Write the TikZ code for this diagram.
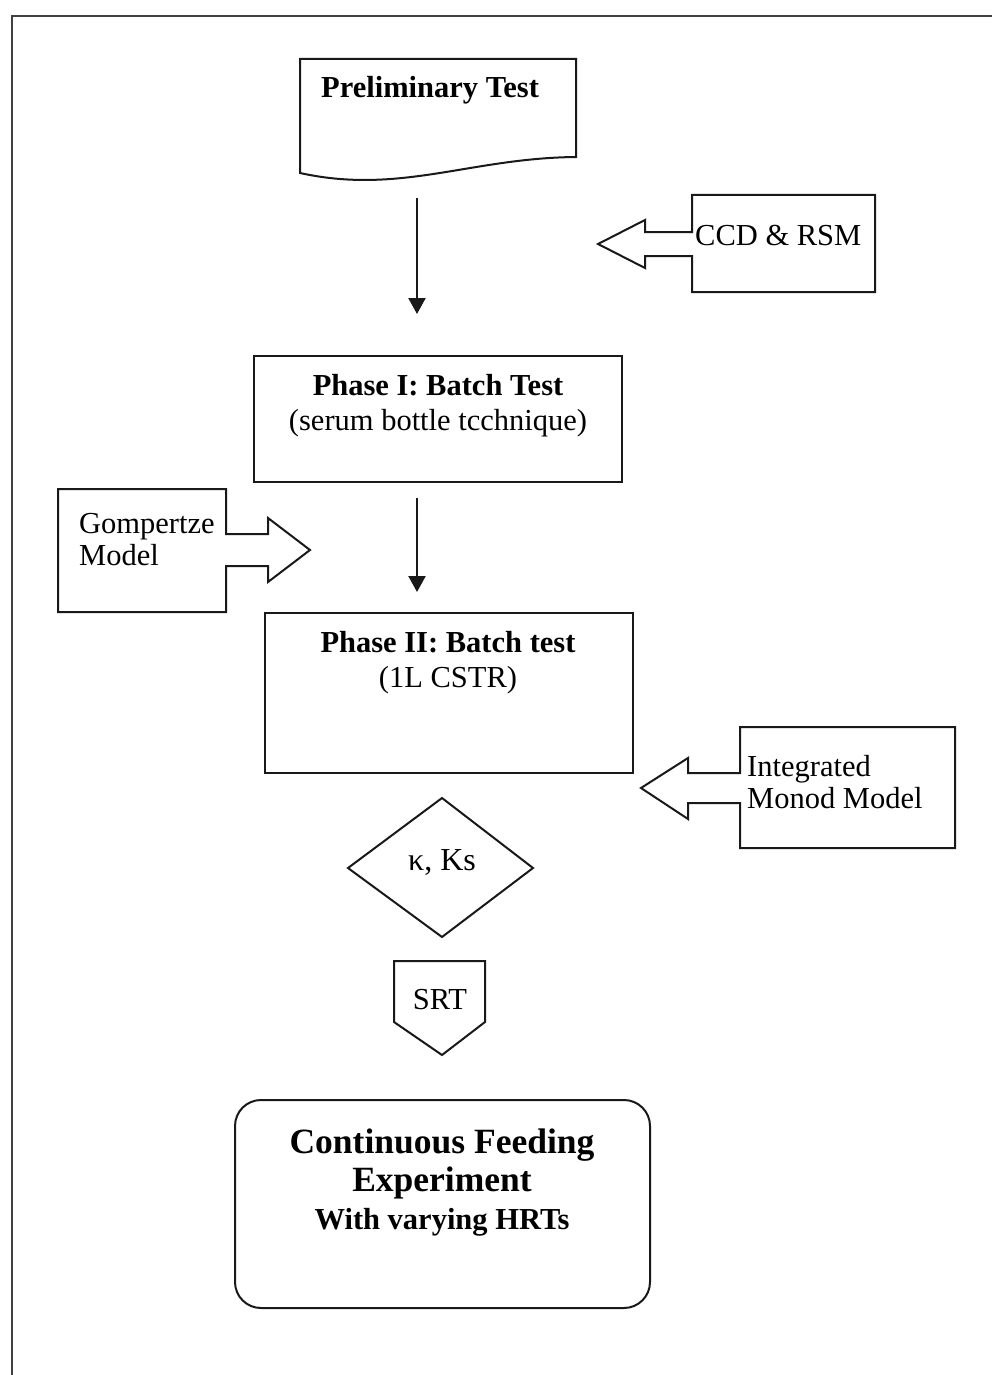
\documentclass[tikz,border=0pt]{standalone}
\usepackage{fontspec}
\setmainfont{Liberation Serif}
\usetikzlibrary{arrows.meta}
\tikzset{
  shp/.style={draw=black!90, line width=2pt, line join=miter},
  txt/.style={font=\fontsize{30.5}{35}\selectfont, align=center, inner sep=0pt},
  txtl/.style={font=\fontsize{30.5}{32}\selectfont, align=left, inner sep=0pt, anchor=west},
  flow/.style={draw=black!90, line width=2.2pt, -{Triangle[length=16pt,width=17pt]}},
}
\begin{document}
\begin{tikzpicture}[x=1pt,y=-1pt]
\useasboundingbox (0,0) rectangle (992,1375);
% outer frame (only top and left edges fall inside the page)
\draw[line width=2.5pt, black!75] (12,1380) -- (12,16) -- (1000,16);

% Preliminary Test (document shape)
\draw[shp] (300,59) -- (576,59) -- (576,157) .. controls (470,158) and (400,195) .. (300,173) -- cycle;
\node[txt, font=\fontsize{30.5}{35}\selectfont\bfseries] (prelim) at (430,90) {Preliminary Test};
\coordinate (a1s) at (417,198);
\coordinate (a1e) at (417,314);

% CCD & RSM callout
\draw[shp] (692,195) -- (875,195) -- (875,292) -- (692,292) -- (692,256) -- (645,256) -- (645,268) -- (598,244) -- (645,220) -- (645,232) -- (692,232) -- cycle;
\node[txtl] (ccd) at (695,236) {CCD \& RSM};

% Phase I
\node[shp, minimum width=368pt, minimum height=126pt, inner sep=0pt] (ph1box) at (438,419) {};
\node[txt] (ph1) at (438,406) {\textbf{Phase I: Batch Test}\\(serum bottle tcchnique)};
\coordinate (a2s) at (417,498);
\coordinate (a2e) at (417,592);

% Gompertze callout
\draw[shp] (58,489) -- (226,489) -- (226,534) -- (268,534) -- (268,518) -- (310,550) -- (268,582) -- (268,566) -- (226,566) -- (226,612) -- (58,612) -- cycle;
\node[txtl] (gomp) at (79,540) {Gompertze\\Model};

% Phase II
\node[shp, minimum width=368pt, minimum height=160pt, inner sep=0pt] (ph2box) at (449,693) {};
\node[txt] (ph2) at (448,663) {\textbf{Phase II: Batch test}\\(1L CSTR)};

% Integrated Monod Model callout
\draw[shp] (740,727) -- (955,727) -- (955,848) -- (740,848) -- (740,803) -- (688,803) -- (688,819) -- (641,788) -- (688,758) -- (688,773) -- (740,773) -- cycle;
\node[txtl] (monod) at (747,782) {Integrated\\Monod Model};

% kappa, Ks decision
\draw[shp] (442,798) -- (533,868) -- (442,937) -- (348,868) -- cycle;
\node[txt, font=\fontsize{32}{35}\selectfont] (kap) at (442,862) {κ, Ks};

% SRT off-page connector
\draw[shp] (394,961) -- (485,961) -- (485,1022) -- (442,1055) -- (394,1022) -- cycle;
\node[txt] (srt) at (440,1000) {SRT};

% Continuous feeding
\draw[shp, rounded corners=26pt] (235,1100) rectangle (650,1308);
\node[txt, font=\bfseries\fontsize{35.5}{40}\selectfont] (cf) at (442,1183) {Continuous Feeding\\[-2pt]Experiment\\[-2pt]{\fontsize{30.5}{34}\selectfont With varying HRTs}};

% arrows
\draw[flow] (a1s) -- (a1e);
\draw[flow] (a2s) -- (a2e);
\end{tikzpicture}
\end{document}
